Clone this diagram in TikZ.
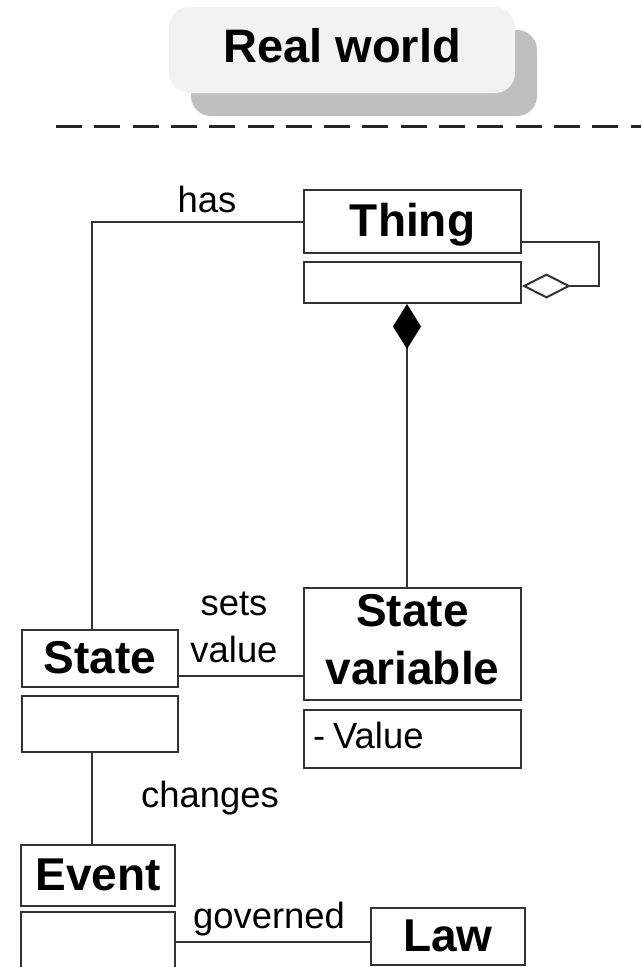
\documentclass[tikz,border=0pt]{standalone}
\usepackage{fontspec}
\setmainfont{Liberation Sans}
\usetikzlibrary{arrows.meta,shadows}
\definecolor{edge}{HTML}{333333}
\definecolor{panel}{HTML}{F2F2F2}
\definecolor{panelshadow}{HTML}{BFBFBF}
\begin{document}
\begin{tikzpicture}[x=1pt,y=-1pt,
  box/.style={draw=edge,line width=2pt,fill=white,inner sep=0pt,rectangle},
  classname/.style={font=\fontsize{46}{53}\selectfont\bfseries,text height=33pt,text depth=4pt},
  lbl/.style={font=\fontsize{36.4}{40}\selectfont,inner sep=0pt,anchor=base},
  link/.style={draw=edge,line width=2pt},
]
\useasboundingbox (0,0) rectangle (641,967);

% title panel with its shadow
\node[fill=panel,rounded corners=20pt,minimum width=346pt,minimum height=86pt,inner sep=0pt,
      drop shadow={shadow xshift=22pt,shadow yshift=-23pt,fill=panelshadow,opacity=1},
      font=\fontsize{47}{53}\selectfont\bfseries,text height=34pt,text depth=9pt]
      (realworld) at (342,50) {Real world};

% separator
\draw[draw=black!85,line width=3pt,dash pattern=on 26pt off 12.3pt] (56,126) -- (641,126);

% classes
\node[box,classname,minimum width=217pt,minimum height=63pt] (thing) at (412.5,221.5) {Thing};
\node[box,minimum width=217pt,minimum height=41pt] (thingattr) at (412.5,282.5) {};

\node[box,font=\fontsize{46}{58}\selectfont\bfseries,align=center,
      minimum width=217pt,minimum height=112pt] (statevar) at (412.5,644)
      {State\\variable\rule[-9pt]{0pt}{9pt}};
\node[box,font=\fontsize{36.4}{40}\selectfont,minimum width=217pt,minimum height=58pt,
      text width=199pt,inner xsep=9pt,align=left,text height=26pt,text depth=8pt]
      (value) at (412.5,739) {-\hspace{0.22em}Value};

\node[box,classname,minimum width=156pt,minimum height=57pt] (state) at (100,658.5) {State};
\node[box,minimum width=156pt,minimum height=56pt] (stateattr) at (100,724) {};

\node[box,classname,minimum width=154pt,minimum height=61pt] (event) at (98,875.5) {Event};
\node[box,minimum width=154pt,minimum height=70pt] (eventattr) at (98,947) {};

\node[box,classname,minimum width=154pt,minimum height=57pt] (law) at (448,936.5) {Law};

% associations
\draw[link] (thing.west) -| ([xshift=-8pt]state.north);
\node[lbl] (has) at (207,212) {has};

\draw[link] ([yshift=-17.5pt]state.east) -- ([yshift=-17.5pt]state.east -| statevar.west);
\node[lbl] (sets) at (234,615) {sets};
\node[lbl] (setsvalue) at (234,662) {value};

\draw[link] ([xshift=-8pt]stateattr.south) -- ([xshift=-8pt]stateattr.south |- event.north);
\node[lbl] (changes) at (210,807) {changes};

\draw[link] ([yshift=-5.5pt]law.west) -- ([yshift=-5.5pt]law.west -| eventattr.east);
\node[lbl] (governed) at (269,928) {governed};

% composition and self aggregation
\draw[link,{Diamond[length=45pt,width=28pt,fill=black,color=black]}-] ([xshift=-5.5pt]thingattr.south) -- ([xshift=-5.5pt]statevar.north);
\draw[link,{Diamond[open,length=49pt,width=25pt]}-] ([yshift=-3.5pt]thingattr.east) -- ++(77,0) |- ([yshift=-20.5pt]thing.east);
\end{tikzpicture}
\end{document}
